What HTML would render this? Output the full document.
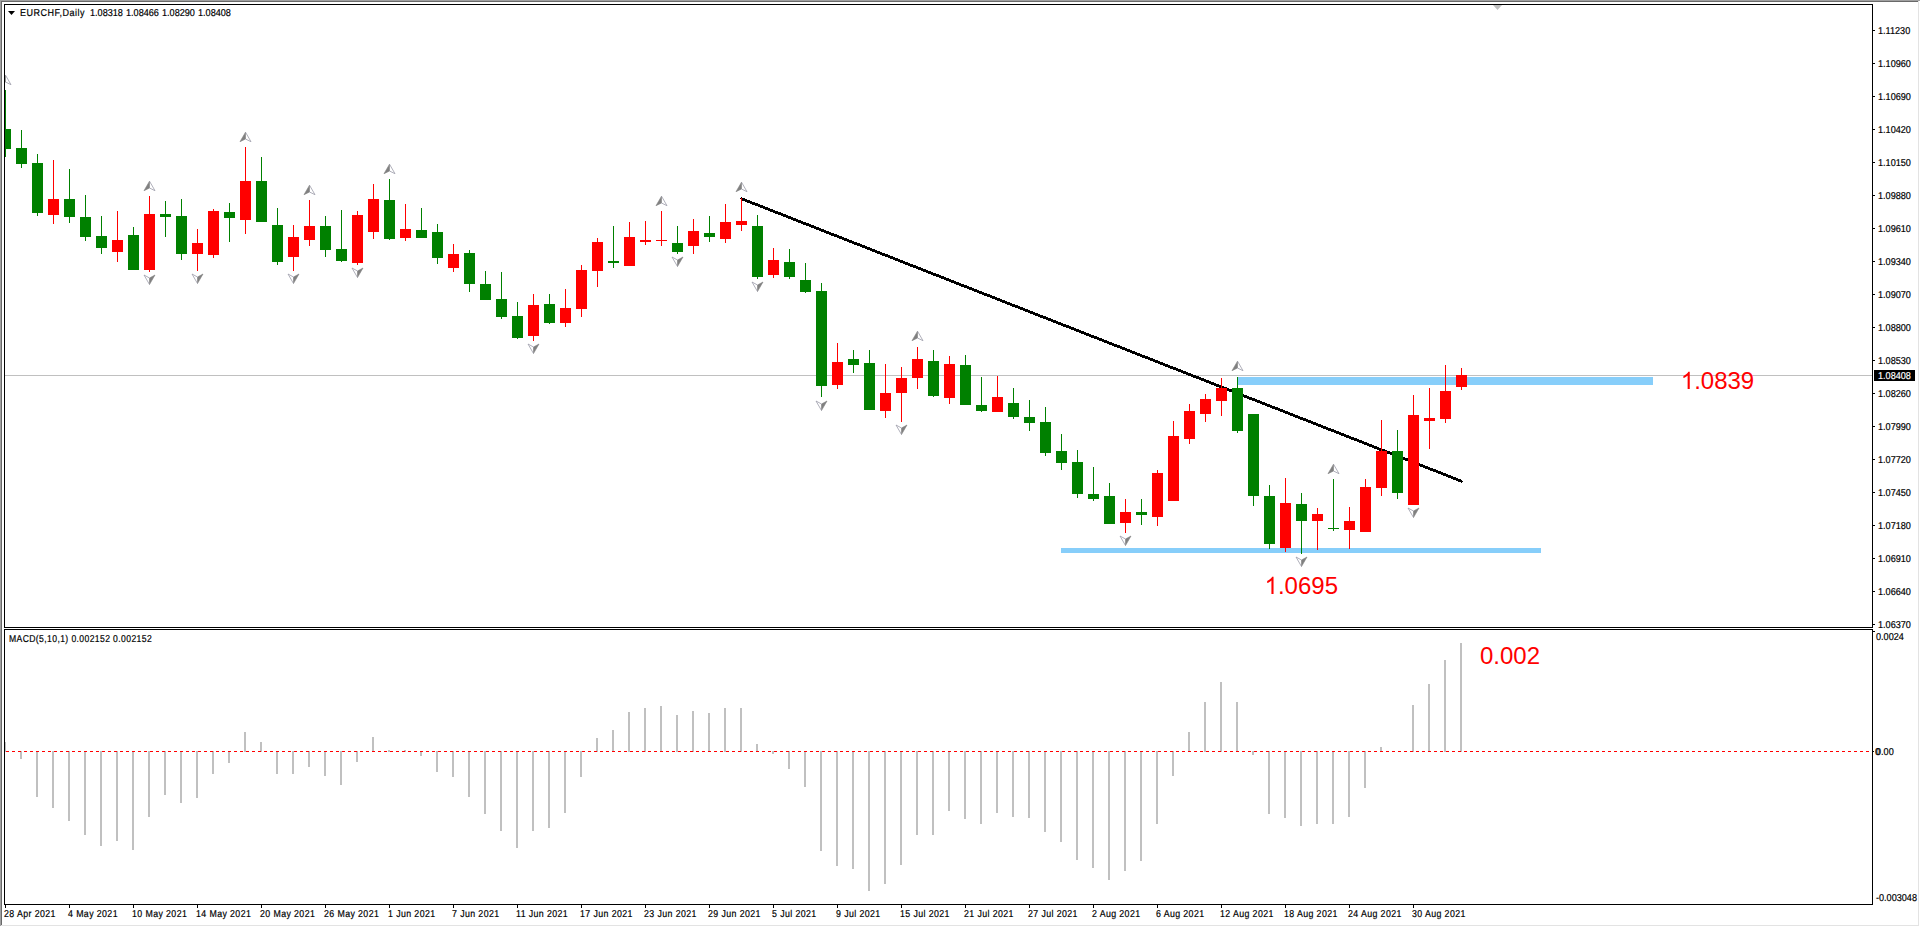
<!DOCTYPE html>
<html><head><meta charset="utf-8"><style>
html,body{margin:0;padding:0;background:#fff;width:1920px;height:927px;overflow:hidden}
svg{position:absolute;left:0;top:0;display:block}
text{font-family:"Liberation Sans",sans-serif;white-space:pre}
</style></head><body>
<svg width="1920" height="927" viewBox="0 0 1920 927">
<defs>
<clipPath id="mainclip"><rect x="5" y="5" width="1867" height="622"/></clipPath>
<clipPath id="macdclip"><rect x="5" y="630" width="1867" height="274"/></clipPath>
</defs>
<rect width="1920" height="927" fill="#fff"/>
<g clip-path="url(#mainclip)" shape-rendering="crispEdges">
<rect x="5" y="375" width="1867" height="1" fill="#c0c0c0"/>
<rect x="1061" y="548" width="480" height="5" fill="#87cefa"/>
<rect x="1238" y="377" width="415" height="8" fill="#87cefa"/>
<path d="M741 197.00 L1462 479.89 L1463 481.39 L1462 482.89 L741 200.00 L740 198.50 Z" fill="#000"/>
<rect x="5" y="90" width="1" height="67" fill="#008000"/>
<rect x="0" y="129" width="11" height="20" fill="#008000"/>
<rect x="21" y="130" width="1" height="38" fill="#008000"/>
<rect x="16" y="148" width="11" height="16" fill="#008000"/>
<rect x="37" y="154" width="1" height="62" fill="#008000"/>
<rect x="32" y="163" width="11" height="50" fill="#008000"/>
<rect x="53" y="160" width="1" height="64" fill="#ff0000"/>
<rect x="48" y="199" width="11" height="16" fill="#ff0000"/>
<rect x="69" y="169" width="1" height="54" fill="#008000"/>
<rect x="64" y="199" width="11" height="18" fill="#008000"/>
<rect x="85" y="195" width="1" height="46" fill="#008000"/>
<rect x="80" y="217" width="11" height="20" fill="#008000"/>
<rect x="101" y="216" width="1" height="38" fill="#008000"/>
<rect x="96" y="236" width="11" height="12" fill="#008000"/>
<rect x="117" y="211" width="1" height="51" fill="#ff0000"/>
<rect x="112" y="240" width="11" height="12" fill="#ff0000"/>
<rect x="133" y="227" width="1" height="43" fill="#008000"/>
<rect x="128" y="235" width="11" height="35" fill="#008000"/>
<rect x="149" y="196" width="1" height="76" fill="#ff0000"/>
<rect x="144" y="214" width="11" height="56" fill="#ff0000"/>
<rect x="165" y="201" width="1" height="36" fill="#008000"/>
<rect x="160" y="214" width="11" height="3" fill="#008000"/>
<rect x="181" y="199" width="1" height="61" fill="#008000"/>
<rect x="176" y="216" width="11" height="38" fill="#008000"/>
<rect x="197" y="229" width="1" height="42" fill="#ff0000"/>
<rect x="192" y="243" width="11" height="11" fill="#ff0000"/>
<rect x="213" y="209" width="1" height="49" fill="#ff0000"/>
<rect x="208" y="211" width="11" height="44" fill="#ff0000"/>
<rect x="229" y="203" width="1" height="39" fill="#008000"/>
<rect x="224" y="212" width="11" height="6" fill="#008000"/>
<rect x="245" y="147" width="1" height="87" fill="#ff0000"/>
<rect x="240" y="181" width="11" height="39" fill="#ff0000"/>
<rect x="261" y="157" width="1" height="65" fill="#008000"/>
<rect x="256" y="181" width="11" height="41" fill="#008000"/>
<rect x="277" y="208" width="1" height="57" fill="#008000"/>
<rect x="272" y="225" width="11" height="37" fill="#008000"/>
<rect x="293" y="225" width="1" height="46" fill="#ff0000"/>
<rect x="288" y="237" width="11" height="20" fill="#ff0000"/>
<rect x="309" y="200" width="1" height="46" fill="#ff0000"/>
<rect x="304" y="226" width="11" height="14" fill="#ff0000"/>
<rect x="325" y="216" width="1" height="41" fill="#008000"/>
<rect x="320" y="226" width="11" height="24" fill="#008000"/>
<rect x="341" y="210" width="1" height="52" fill="#008000"/>
<rect x="336" y="249" width="11" height="12" fill="#008000"/>
<rect x="357" y="211" width="1" height="54" fill="#ff0000"/>
<rect x="352" y="215" width="11" height="48" fill="#ff0000"/>
<rect x="373" y="184" width="1" height="55" fill="#ff0000"/>
<rect x="368" y="199" width="11" height="33" fill="#ff0000"/>
<rect x="389" y="179" width="1" height="61" fill="#008000"/>
<rect x="384" y="200" width="11" height="39" fill="#008000"/>
<rect x="405" y="204" width="1" height="37" fill="#ff0000"/>
<rect x="400" y="229" width="11" height="9" fill="#ff0000"/>
<rect x="421" y="208" width="1" height="30" fill="#008000"/>
<rect x="416" y="230" width="11" height="8" fill="#008000"/>
<rect x="437" y="224" width="1" height="40" fill="#008000"/>
<rect x="432" y="232" width="11" height="26" fill="#008000"/>
<rect x="453" y="244" width="1" height="28" fill="#ff0000"/>
<rect x="448" y="254" width="11" height="14" fill="#ff0000"/>
<rect x="469" y="250" width="1" height="42" fill="#008000"/>
<rect x="464" y="253" width="11" height="31" fill="#008000"/>
<rect x="485" y="271" width="1" height="29" fill="#008000"/>
<rect x="480" y="284" width="11" height="16" fill="#008000"/>
<rect x="501" y="272" width="1" height="47" fill="#008000"/>
<rect x="496" y="299" width="11" height="18" fill="#008000"/>
<rect x="517" y="302" width="1" height="37" fill="#008000"/>
<rect x="512" y="316" width="11" height="22" fill="#008000"/>
<rect x="533" y="294" width="1" height="47" fill="#ff0000"/>
<rect x="528" y="305" width="11" height="31" fill="#ff0000"/>
<rect x="549" y="294" width="1" height="30" fill="#008000"/>
<rect x="544" y="304" width="11" height="19" fill="#008000"/>
<rect x="565" y="289" width="1" height="38" fill="#ff0000"/>
<rect x="560" y="308" width="11" height="15" fill="#ff0000"/>
<rect x="581" y="265" width="1" height="52" fill="#ff0000"/>
<rect x="576" y="270" width="11" height="39" fill="#ff0000"/>
<rect x="597" y="238" width="1" height="49" fill="#ff0000"/>
<rect x="592" y="242" width="11" height="29" fill="#ff0000"/>
<rect x="613" y="226" width="1" height="42" fill="#008000"/>
<rect x="608" y="261" width="11" height="2" fill="#008000"/>
<rect x="629" y="222" width="1" height="44" fill="#ff0000"/>
<rect x="624" y="237" width="11" height="29" fill="#ff0000"/>
<rect x="645" y="221" width="1" height="24" fill="#ff0000"/>
<rect x="640" y="240" width="11" height="2" fill="#ff0000"/>
<rect x="661" y="211" width="1" height="35" fill="#ff0000"/>
<rect x="656" y="240" width="11" height="1" fill="#ff0000"/>
<rect x="677" y="226" width="1" height="28" fill="#008000"/>
<rect x="672" y="243" width="11" height="9" fill="#008000"/>
<rect x="693" y="219" width="1" height="35" fill="#ff0000"/>
<rect x="688" y="231" width="11" height="15" fill="#ff0000"/>
<rect x="709" y="216" width="1" height="26" fill="#008000"/>
<rect x="704" y="233" width="11" height="4" fill="#008000"/>
<rect x="725" y="204" width="1" height="39" fill="#ff0000"/>
<rect x="720" y="222" width="11" height="17" fill="#ff0000"/>
<rect x="741" y="198" width="1" height="33" fill="#ff0000"/>
<rect x="736" y="221" width="11" height="4" fill="#ff0000"/>
<rect x="757" y="215" width="1" height="64" fill="#008000"/>
<rect x="752" y="226" width="11" height="51" fill="#008000"/>
<rect x="773" y="248" width="1" height="30" fill="#ff0000"/>
<rect x="768" y="260" width="11" height="15" fill="#ff0000"/>
<rect x="789" y="249" width="1" height="30" fill="#008000"/>
<rect x="784" y="262" width="11" height="15" fill="#008000"/>
<rect x="805" y="263" width="1" height="30" fill="#008000"/>
<rect x="800" y="280" width="11" height="12" fill="#008000"/>
<rect x="821" y="283" width="1" height="114" fill="#008000"/>
<rect x="816" y="291" width="11" height="95" fill="#008000"/>
<rect x="837" y="343" width="1" height="46" fill="#ff0000"/>
<rect x="832" y="362" width="11" height="23" fill="#ff0000"/>
<rect x="853" y="350" width="1" height="23" fill="#008000"/>
<rect x="848" y="359" width="11" height="6" fill="#008000"/>
<rect x="869" y="350" width="1" height="60" fill="#008000"/>
<rect x="864" y="363" width="11" height="47" fill="#008000"/>
<rect x="885" y="364" width="1" height="54" fill="#ff0000"/>
<rect x="880" y="393" width="11" height="18" fill="#ff0000"/>
<rect x="901" y="367" width="1" height="55" fill="#ff0000"/>
<rect x="896" y="378" width="11" height="15" fill="#ff0000"/>
<rect x="917" y="347" width="1" height="42" fill="#ff0000"/>
<rect x="912" y="359" width="11" height="19" fill="#ff0000"/>
<rect x="933" y="350" width="1" height="47" fill="#008000"/>
<rect x="928" y="361" width="11" height="35" fill="#008000"/>
<rect x="949" y="356" width="1" height="48" fill="#ff0000"/>
<rect x="944" y="364" width="11" height="34" fill="#ff0000"/>
<rect x="965" y="355" width="1" height="50" fill="#008000"/>
<rect x="960" y="365" width="11" height="40" fill="#008000"/>
<rect x="981" y="377" width="1" height="35" fill="#008000"/>
<rect x="976" y="405" width="11" height="6" fill="#008000"/>
<rect x="997" y="376" width="1" height="36" fill="#ff0000"/>
<rect x="992" y="397" width="11" height="15" fill="#ff0000"/>
<rect x="1013" y="388" width="1" height="31" fill="#008000"/>
<rect x="1008" y="403" width="11" height="14" fill="#008000"/>
<rect x="1029" y="400" width="1" height="31" fill="#008000"/>
<rect x="1024" y="417" width="11" height="6" fill="#008000"/>
<rect x="1045" y="407" width="1" height="49" fill="#008000"/>
<rect x="1040" y="422" width="11" height="31" fill="#008000"/>
<rect x="1061" y="434" width="1" height="36" fill="#008000"/>
<rect x="1056" y="451" width="11" height="12" fill="#008000"/>
<rect x="1077" y="450" width="1" height="48" fill="#008000"/>
<rect x="1072" y="462" width="11" height="32" fill="#008000"/>
<rect x="1093" y="467" width="1" height="34" fill="#008000"/>
<rect x="1088" y="494" width="11" height="5" fill="#008000"/>
<rect x="1109" y="483" width="1" height="41" fill="#008000"/>
<rect x="1104" y="496" width="11" height="28" fill="#008000"/>
<rect x="1125" y="499" width="1" height="34" fill="#ff0000"/>
<rect x="1120" y="512" width="11" height="11" fill="#ff0000"/>
<rect x="1141" y="499" width="1" height="26" fill="#008000"/>
<rect x="1136" y="512" width="11" height="3" fill="#008000"/>
<rect x="1157" y="470" width="1" height="56" fill="#ff0000"/>
<rect x="1152" y="473" width="11" height="44" fill="#ff0000"/>
<rect x="1173" y="421" width="1" height="80" fill="#ff0000"/>
<rect x="1168" y="436" width="11" height="65" fill="#ff0000"/>
<rect x="1189" y="404" width="1" height="40" fill="#ff0000"/>
<rect x="1184" y="411" width="11" height="28" fill="#ff0000"/>
<rect x="1205" y="394" width="1" height="28" fill="#ff0000"/>
<rect x="1200" y="399" width="11" height="15" fill="#ff0000"/>
<rect x="1221" y="378" width="1" height="38" fill="#ff0000"/>
<rect x="1216" y="388" width="11" height="13" fill="#ff0000"/>
<rect x="1237" y="377" width="1" height="56" fill="#008000"/>
<rect x="1232" y="388" width="11" height="43" fill="#008000"/>
<rect x="1253" y="414" width="1" height="92" fill="#008000"/>
<rect x="1248" y="414" width="11" height="82" fill="#008000"/>
<rect x="1269" y="485" width="1" height="64" fill="#008000"/>
<rect x="1264" y="496" width="11" height="48" fill="#008000"/>
<rect x="1285" y="478" width="1" height="74" fill="#ff0000"/>
<rect x="1280" y="503" width="11" height="45" fill="#ff0000"/>
<rect x="1301" y="493" width="1" height="61" fill="#008000"/>
<rect x="1296" y="504" width="11" height="17" fill="#008000"/>
<rect x="1317" y="508" width="1" height="42" fill="#ff0000"/>
<rect x="1312" y="514" width="11" height="7" fill="#ff0000"/>
<rect x="1333" y="479" width="1" height="52" fill="#008000"/>
<rect x="1328" y="528" width="11" height="1" fill="#008000"/>
<rect x="1349" y="507" width="1" height="42" fill="#ff0000"/>
<rect x="1344" y="521" width="11" height="9" fill="#ff0000"/>
<rect x="1365" y="479" width="1" height="53" fill="#ff0000"/>
<rect x="1360" y="487" width="11" height="45" fill="#ff0000"/>
<rect x="1381" y="420" width="1" height="76" fill="#ff0000"/>
<rect x="1376" y="451" width="11" height="37" fill="#ff0000"/>
<rect x="1397" y="430" width="1" height="69" fill="#008000"/>
<rect x="1392" y="451" width="11" height="42" fill="#008000"/>
<rect x="1413" y="395" width="1" height="110" fill="#ff0000"/>
<rect x="1408" y="415" width="11" height="90" fill="#ff0000"/>
<rect x="1429" y="388" width="1" height="61" fill="#ff0000"/>
<rect x="1424" y="418" width="11" height="3" fill="#ff0000"/>
<rect x="1445" y="365" width="1" height="58" fill="#ff0000"/>
<rect x="1440" y="391" width="11" height="28" fill="#ff0000"/>
<rect x="1461" y="368" width="1" height="22" fill="#ff0000"/>
<rect x="1456" y="375" width="11" height="12" fill="#ff0000"/>
</g>
<g clip-path="url(#mainclip)">
<path d="M5.5 75.2 L0.0 84.7 L5.5 82 Z" fill="#808080" stroke="#808080" stroke-width="0.6"/>
<path d="M5.5 75.2 L11.0 84.7 L5.5 82" fill="none" stroke="#9a9aa8" stroke-width="0.8"/>
<path d="M149.5 181.2 L144.0 190.7 L149.5 188 Z" fill="#808080" stroke="#808080" stroke-width="0.6"/>
<path d="M149.5 181.2 L155.0 190.7 L149.5 188" fill="none" stroke="#9a9aa8" stroke-width="0.8"/>
<path d="M245.5 132.2 L240.0 141.7 L245.5 139 Z" fill="#808080" stroke="#808080" stroke-width="0.6"/>
<path d="M245.5 132.2 L251.0 141.7 L245.5 139" fill="none" stroke="#9a9aa8" stroke-width="0.8"/>
<path d="M309.5 185.2 L304.0 194.7 L309.5 192 Z" fill="#808080" stroke="#808080" stroke-width="0.6"/>
<path d="M309.5 185.2 L315.0 194.7 L309.5 192" fill="none" stroke="#9a9aa8" stroke-width="0.8"/>
<path d="M389.5 164.2 L384.0 173.7 L389.5 171 Z" fill="#808080" stroke="#808080" stroke-width="0.6"/>
<path d="M389.5 164.2 L395.0 173.7 L389.5 171" fill="none" stroke="#9a9aa8" stroke-width="0.8"/>
<path d="M661.5 196.2 L656.0 205.7 L661.5 203 Z" fill="#808080" stroke="#808080" stroke-width="0.6"/>
<path d="M661.5 196.2 L667.0 205.7 L661.5 203" fill="none" stroke="#9a9aa8" stroke-width="0.8"/>
<path d="M741.5 182.2 L736.0 191.7 L741.5 189 Z" fill="#808080" stroke="#808080" stroke-width="0.6"/>
<path d="M741.5 182.2 L747.0 191.7 L741.5 189" fill="none" stroke="#9a9aa8" stroke-width="0.8"/>
<path d="M917.5 331.2 L912.0 340.7 L917.5 338 Z" fill="#808080" stroke="#808080" stroke-width="0.6"/>
<path d="M917.5 331.2 L923.0 340.7 L917.5 338" fill="none" stroke="#9a9aa8" stroke-width="0.8"/>
<path d="M1237.5 361.2 L1232.0 370.7 L1237.5 368 Z" fill="#808080" stroke="#808080" stroke-width="0.6"/>
<path d="M1237.5 361.2 L1243.0 370.7 L1237.5 368" fill="none" stroke="#9a9aa8" stroke-width="0.8"/>
<path d="M1333.5 464.2 L1328.0 473.7 L1333.5 471 Z" fill="#808080" stroke="#808080" stroke-width="0.6"/>
<path d="M1333.5 464.2 L1339.0 473.7 L1333.5 471" fill="none" stroke="#9a9aa8" stroke-width="0.8"/>
<path d="M149.5 284.5 L155.0 275 L149.5 278 Z" fill="#808080" stroke="#808080" stroke-width="0.6"/>
<path d="M149.5 284.5 L144.0 275 L149.5 278" fill="none" stroke="#9a9aa8" stroke-width="0.8"/>
<path d="M197.5 283.5 L203.0 274 L197.5 277 Z" fill="#808080" stroke="#808080" stroke-width="0.6"/>
<path d="M197.5 283.5 L192.0 274 L197.5 277" fill="none" stroke="#9a9aa8" stroke-width="0.8"/>
<path d="M293.5 283.5 L299.0 274 L293.5 277 Z" fill="#808080" stroke="#808080" stroke-width="0.6"/>
<path d="M293.5 283.5 L288.0 274 L293.5 277" fill="none" stroke="#9a9aa8" stroke-width="0.8"/>
<path d="M357.5 277.5 L363.0 268 L357.5 271 Z" fill="#808080" stroke="#808080" stroke-width="0.6"/>
<path d="M357.5 277.5 L352.0 268 L357.5 271" fill="none" stroke="#9a9aa8" stroke-width="0.8"/>
<path d="M533.5 353.5 L539.0 344 L533.5 347 Z" fill="#808080" stroke="#808080" stroke-width="0.6"/>
<path d="M533.5 353.5 L528.0 344 L533.5 347" fill="none" stroke="#9a9aa8" stroke-width="0.8"/>
<path d="M677.5 266.5 L683.0 257 L677.5 260 Z" fill="#808080" stroke="#808080" stroke-width="0.6"/>
<path d="M677.5 266.5 L672.0 257 L677.5 260" fill="none" stroke="#9a9aa8" stroke-width="0.8"/>
<path d="M757.5 291.5 L763.0 282 L757.5 285 Z" fill="#808080" stroke="#808080" stroke-width="0.6"/>
<path d="M757.5 291.5 L752.0 282 L757.5 285" fill="none" stroke="#9a9aa8" stroke-width="0.8"/>
<path d="M821.5 410.5 L827.0 401 L821.5 404 Z" fill="#808080" stroke="#808080" stroke-width="0.6"/>
<path d="M821.5 410.5 L816.0 401 L821.5 404" fill="none" stroke="#9a9aa8" stroke-width="0.8"/>
<path d="M901.5 434.5 L907.0 425 L901.5 428 Z" fill="#808080" stroke="#808080" stroke-width="0.6"/>
<path d="M901.5 434.5 L896.0 425 L901.5 428" fill="none" stroke="#9a9aa8" stroke-width="0.8"/>
<path d="M1125.5 545.5 L1131.0 536 L1125.5 539 Z" fill="#808080" stroke="#808080" stroke-width="0.6"/>
<path d="M1125.5 545.5 L1120.0 536 L1125.5 539" fill="none" stroke="#9a9aa8" stroke-width="0.8"/>
<path d="M1301.5 566.5 L1307.0 557 L1301.5 560 Z" fill="#808080" stroke="#808080" stroke-width="0.6"/>
<path d="M1301.5 566.5 L1296.0 557 L1301.5 560" fill="none" stroke="#9a9aa8" stroke-width="0.8"/>
<path d="M1413.5 517.5 L1419.0 508 L1413.5 511 Z" fill="#808080" stroke="#808080" stroke-width="0.6"/>
<path d="M1413.5 517.5 L1408.0 508 L1413.5 511" fill="none" stroke="#9a9aa8" stroke-width="0.8"/>
</g>
<path d="M1493 5 L1502 5 L1497.5 10 Z" fill="#c0c0c0"/>
<g clip-path="url(#macdclip)" shape-rendering="crispEdges">
<rect x="4" y="742" width="2" height="10" fill="#c0c0c0"/>
<rect x="20" y="751" width="2" height="8" fill="#c0c0c0"/>
<rect x="36" y="751" width="2" height="46" fill="#c0c0c0"/>
<rect x="52" y="751" width="2" height="57" fill="#c0c0c0"/>
<rect x="68" y="751" width="2" height="70" fill="#c0c0c0"/>
<rect x="84" y="751" width="2" height="84" fill="#c0c0c0"/>
<rect x="100" y="751" width="2" height="95" fill="#c0c0c0"/>
<rect x="116" y="751" width="2" height="90" fill="#c0c0c0"/>
<rect x="132" y="751" width="2" height="99" fill="#c0c0c0"/>
<rect x="148" y="751" width="2" height="66" fill="#c0c0c0"/>
<rect x="164" y="751" width="2" height="44" fill="#c0c0c0"/>
<rect x="180" y="751" width="2" height="52" fill="#c0c0c0"/>
<rect x="196" y="751" width="2" height="47" fill="#c0c0c0"/>
<rect x="212" y="751" width="2" height="23" fill="#c0c0c0"/>
<rect x="228" y="751" width="2" height="12" fill="#c0c0c0"/>
<rect x="244" y="732" width="2" height="20" fill="#c0c0c0"/>
<rect x="260" y="742" width="2" height="10" fill="#c0c0c0"/>
<rect x="276" y="751" width="2" height="23" fill="#c0c0c0"/>
<rect x="292" y="751" width="2" height="23" fill="#c0c0c0"/>
<rect x="308" y="751" width="2" height="16" fill="#c0c0c0"/>
<rect x="324" y="751" width="2" height="25" fill="#c0c0c0"/>
<rect x="340" y="751" width="2" height="34" fill="#c0c0c0"/>
<rect x="356" y="751" width="2" height="11" fill="#c0c0c0"/>
<rect x="372" y="737" width="2" height="15" fill="#c0c0c0"/>
<rect x="388" y="750" width="2" height="2" fill="#c0c0c0"/>
<rect x="404" y="750" width="2" height="2" fill="#c0c0c0"/>
<rect x="420" y="751" width="2" height="5" fill="#c0c0c0"/>
<rect x="436" y="751" width="2" height="21" fill="#c0c0c0"/>
<rect x="452" y="751" width="2" height="26" fill="#c0c0c0"/>
<rect x="468" y="751" width="2" height="46" fill="#c0c0c0"/>
<rect x="484" y="751" width="2" height="63" fill="#c0c0c0"/>
<rect x="500" y="751" width="2" height="80" fill="#c0c0c0"/>
<rect x="516" y="751" width="2" height="97" fill="#c0c0c0"/>
<rect x="532" y="751" width="2" height="80" fill="#c0c0c0"/>
<rect x="548" y="751" width="2" height="77" fill="#c0c0c0"/>
<rect x="564" y="751" width="2" height="62" fill="#c0c0c0"/>
<rect x="580" y="751" width="2" height="26" fill="#c0c0c0"/>
<rect x="596" y="738" width="2" height="14" fill="#c0c0c0"/>
<rect x="612" y="730" width="2" height="22" fill="#c0c0c0"/>
<rect x="628" y="712" width="2" height="40" fill="#c0c0c0"/>
<rect x="644" y="708" width="2" height="44" fill="#c0c0c0"/>
<rect x="660" y="706" width="2" height="46" fill="#c0c0c0"/>
<rect x="676" y="715" width="2" height="37" fill="#c0c0c0"/>
<rect x="692" y="711" width="2" height="41" fill="#c0c0c0"/>
<rect x="708" y="713" width="2" height="39" fill="#c0c0c0"/>
<rect x="724" y="708" width="2" height="44" fill="#c0c0c0"/>
<rect x="740" y="708" width="2" height="44" fill="#c0c0c0"/>
<rect x="756" y="744" width="2" height="8" fill="#c0c0c0"/>
<rect x="772" y="751" width="2" height="3" fill="#c0c0c0"/>
<rect x="788" y="751" width="2" height="18" fill="#c0c0c0"/>
<rect x="804" y="751" width="2" height="36" fill="#c0c0c0"/>
<rect x="820" y="751" width="2" height="100" fill="#c0c0c0"/>
<rect x="836" y="751" width="2" height="115" fill="#c0c0c0"/>
<rect x="852" y="751" width="2" height="118" fill="#c0c0c0"/>
<rect x="868" y="751" width="2" height="140" fill="#c0c0c0"/>
<rect x="884" y="751" width="2" height="133" fill="#c0c0c0"/>
<rect x="900" y="751" width="2" height="114" fill="#c0c0c0"/>
<rect x="916" y="751" width="2" height="84" fill="#c0c0c0"/>
<rect x="932" y="751" width="2" height="84" fill="#c0c0c0"/>
<rect x="948" y="751" width="2" height="60" fill="#c0c0c0"/>
<rect x="964" y="751" width="2" height="68" fill="#c0c0c0"/>
<rect x="980" y="751" width="2" height="73" fill="#c0c0c0"/>
<rect x="996" y="751" width="2" height="62" fill="#c0c0c0"/>
<rect x="1012" y="751" width="2" height="66" fill="#c0c0c0"/>
<rect x="1028" y="751" width="2" height="67" fill="#c0c0c0"/>
<rect x="1044" y="751" width="2" height="81" fill="#c0c0c0"/>
<rect x="1060" y="751" width="2" height="91" fill="#c0c0c0"/>
<rect x="1076" y="751" width="2" height="109" fill="#c0c0c0"/>
<rect x="1092" y="751" width="2" height="117" fill="#c0c0c0"/>
<rect x="1108" y="751" width="2" height="129" fill="#c0c0c0"/>
<rect x="1124" y="751" width="2" height="120" fill="#c0c0c0"/>
<rect x="1140" y="751" width="2" height="110" fill="#c0c0c0"/>
<rect x="1156" y="751" width="2" height="73" fill="#c0c0c0"/>
<rect x="1172" y="751" width="2" height="25" fill="#c0c0c0"/>
<rect x="1188" y="732" width="2" height="20" fill="#c0c0c0"/>
<rect x="1204" y="702" width="2" height="50" fill="#c0c0c0"/>
<rect x="1220" y="682" width="2" height="70" fill="#c0c0c0"/>
<rect x="1236" y="702" width="2" height="50" fill="#c0c0c0"/>
<rect x="1252" y="751" width="2" height="4" fill="#c0c0c0"/>
<rect x="1268" y="751" width="2" height="63" fill="#c0c0c0"/>
<rect x="1284" y="751" width="2" height="67" fill="#c0c0c0"/>
<rect x="1300" y="751" width="2" height="75" fill="#c0c0c0"/>
<rect x="1316" y="751" width="2" height="73" fill="#c0c0c0"/>
<rect x="1332" y="751" width="2" height="73" fill="#c0c0c0"/>
<rect x="1348" y="751" width="2" height="66" fill="#c0c0c0"/>
<rect x="1364" y="751" width="2" height="37" fill="#c0c0c0"/>
<rect x="1380" y="747" width="2" height="5" fill="#c0c0c0"/>
<rect x="1412" y="705" width="2" height="47" fill="#c0c0c0"/>
<rect x="1428" y="684" width="2" height="68" fill="#c0c0c0"/>
<rect x="1444" y="660" width="2" height="92" fill="#c0c0c0"/>
<rect x="1460" y="643" width="2" height="109" fill="#c0c0c0"/>
<line x1="6" y1="751.5" x2="1872" y2="751.5" stroke="#ff0000" stroke-width="1" stroke-dasharray="3 3"/>
</g>
<g shape-rendering="crispEdges">
<rect x="0" y="0" width="1920" height="1" fill="#a0a0a0"/>
<rect x="1" y="1" width="1918" height="1" fill="#696969"/>
<rect x="0" y="0" width="1" height="926" fill="#a0a0a0"/>
<rect x="1" y="1" width="1" height="925" fill="#696969"/>
<rect x="1918" y="1" width="1" height="925" fill="#e3e3e3"/>
<rect x="1" y="925" width="1918" height="1" fill="#e3e3e3"/>
<rect x="4.5" y="4.5" width="1868" height="623" fill="none" stroke="#000" stroke-width="1"/>
<rect x="4.5" y="629.5" width="1868" height="275" fill="none" stroke="#000" stroke-width="1"/>
<rect x="1873" y="30" width="2" height="1" fill="#000"/>
<rect x="1873" y="63" width="2" height="1" fill="#000"/>
<rect x="1873" y="96" width="2" height="1" fill="#000"/>
<rect x="1873" y="129" width="2" height="1" fill="#000"/>
<rect x="1873" y="162" width="2" height="1" fill="#000"/>
<rect x="1873" y="195" width="2" height="1" fill="#000"/>
<rect x="1873" y="228" width="2" height="1" fill="#000"/>
<rect x="1873" y="261" width="2" height="1" fill="#000"/>
<rect x="1873" y="294" width="2" height="1" fill="#000"/>
<rect x="1873" y="327" width="2" height="1" fill="#000"/>
<rect x="1873" y="360" width="2" height="1" fill="#000"/>
<rect x="1873" y="393" width="2" height="1" fill="#000"/>
<rect x="1873" y="426" width="2" height="1" fill="#000"/>
<rect x="1873" y="459" width="2" height="1" fill="#000"/>
<rect x="1873" y="492" width="2" height="1" fill="#000"/>
<rect x="1873" y="525" width="2" height="1" fill="#000"/>
<rect x="1873" y="558" width="2" height="1" fill="#000"/>
<rect x="1873" y="591" width="2" height="1" fill="#000"/>
<rect x="1873" y="624" width="2" height="1" fill="#000"/>
<rect x="1873" y="631" width="2" height="1" fill="#000"/>
<rect x="1873" y="751" width="1" height="1" fill="#000"/>
<rect x="5" y="905" width="1" height="3" fill="#000"/>
<rect x="69" y="905" width="1" height="3" fill="#000"/>
<rect x="133" y="905" width="1" height="3" fill="#000"/>
<rect x="197" y="905" width="1" height="3" fill="#000"/>
<rect x="261" y="905" width="1" height="3" fill="#000"/>
<rect x="325" y="905" width="1" height="3" fill="#000"/>
<rect x="389" y="905" width="1" height="3" fill="#000"/>
<rect x="453" y="905" width="1" height="3" fill="#000"/>
<rect x="517" y="905" width="1" height="3" fill="#000"/>
<rect x="581" y="905" width="1" height="3" fill="#000"/>
<rect x="645" y="905" width="1" height="3" fill="#000"/>
<rect x="709" y="905" width="1" height="3" fill="#000"/>
<rect x="773" y="905" width="1" height="3" fill="#000"/>
<rect x="837" y="905" width="1" height="3" fill="#000"/>
<rect x="901" y="905" width="1" height="3" fill="#000"/>
<rect x="965" y="905" width="1" height="3" fill="#000"/>
<rect x="1029" y="905" width="1" height="3" fill="#000"/>
<rect x="1093" y="905" width="1" height="3" fill="#000"/>
<rect x="1157" y="905" width="1" height="3" fill="#000"/>
<rect x="1221" y="905" width="1" height="3" fill="#000"/>
<rect x="1285" y="905" width="1" height="3" fill="#000"/>
<rect x="1349" y="905" width="1" height="3" fill="#000"/>
<rect x="1413" y="905" width="1" height="3" fill="#000"/>
<rect x="1874" y="370" width="41" height="11" fill="#000"/>
</g>
<path d="M8 11 L15 11 L11.5 15 Z" fill="#000"/>
<text transform="translate(20 16) scale(0.9 1.0)" font-size="10" fill="#000" stroke="#000" stroke-width="0.2" text-rendering="geometricPrecision" letter-spacing="0.55">EURCHF,Daily</text>
<text transform="translate(90 16) scale(0.91 1.0)" font-size="10" fill="#000" stroke="#000" stroke-width="0.2" text-rendering="geometricPrecision" >1.08318</text>
<text transform="translate(126 16) scale(0.91 1.0)" font-size="10" fill="#000" stroke="#000" stroke-width="0.2" text-rendering="geometricPrecision" >1.08466</text>
<text transform="translate(162 16) scale(0.91 1.0)" font-size="10" fill="#000" stroke="#000" stroke-width="0.2" text-rendering="geometricPrecision" >1.08290</text>
<text transform="translate(198 16) scale(0.91 1.0)" font-size="10" fill="#000" stroke="#000" stroke-width="0.2" text-rendering="geometricPrecision" >1.08408</text>
<text transform="translate(9 642) scale(0.86 1.0)" font-size="10" fill="#000" stroke="#000" stroke-width="0.2" text-rendering="geometricPrecision" letter-spacing="0.45">MACD(5,10,1) 0.002152 0.002152</text>
<text transform="translate(1878 33.5) scale(0.91 1.0)" font-size="10" fill="#000" stroke="#000" stroke-width="0.2" text-rendering="geometricPrecision" >1.11230</text>
<text transform="translate(1878 66.5) scale(0.91 1.0)" font-size="10" fill="#000" stroke="#000" stroke-width="0.2" text-rendering="geometricPrecision" >1.10960</text>
<text transform="translate(1878 99.5) scale(0.91 1.0)" font-size="10" fill="#000" stroke="#000" stroke-width="0.2" text-rendering="geometricPrecision" >1.10690</text>
<text transform="translate(1878 132.5) scale(0.91 1.0)" font-size="10" fill="#000" stroke="#000" stroke-width="0.2" text-rendering="geometricPrecision" >1.10420</text>
<text transform="translate(1878 165.5) scale(0.91 1.0)" font-size="10" fill="#000" stroke="#000" stroke-width="0.2" text-rendering="geometricPrecision" >1.10150</text>
<text transform="translate(1878 198.5) scale(0.91 1.0)" font-size="10" fill="#000" stroke="#000" stroke-width="0.2" text-rendering="geometricPrecision" >1.09880</text>
<text transform="translate(1878 231.5) scale(0.91 1.0)" font-size="10" fill="#000" stroke="#000" stroke-width="0.2" text-rendering="geometricPrecision" >1.09610</text>
<text transform="translate(1878 264.5) scale(0.91 1.0)" font-size="10" fill="#000" stroke="#000" stroke-width="0.2" text-rendering="geometricPrecision" >1.09340</text>
<text transform="translate(1878 297.5) scale(0.91 1.0)" font-size="10" fill="#000" stroke="#000" stroke-width="0.2" text-rendering="geometricPrecision" >1.09070</text>
<text transform="translate(1878 330.5) scale(0.91 1.0)" font-size="10" fill="#000" stroke="#000" stroke-width="0.2" text-rendering="geometricPrecision" >1.08800</text>
<text transform="translate(1878 363.5) scale(0.91 1.0)" font-size="10" fill="#000" stroke="#000" stroke-width="0.2" text-rendering="geometricPrecision" >1.08530</text>
<text transform="translate(1878 396.5) scale(0.91 1.0)" font-size="10" fill="#000" stroke="#000" stroke-width="0.2" text-rendering="geometricPrecision" >1.08260</text>
<text transform="translate(1878 429.5) scale(0.91 1.0)" font-size="10" fill="#000" stroke="#000" stroke-width="0.2" text-rendering="geometricPrecision" >1.07990</text>
<text transform="translate(1878 462.5) scale(0.91 1.0)" font-size="10" fill="#000" stroke="#000" stroke-width="0.2" text-rendering="geometricPrecision" >1.07720</text>
<text transform="translate(1878 495.5) scale(0.91 1.0)" font-size="10" fill="#000" stroke="#000" stroke-width="0.2" text-rendering="geometricPrecision" >1.07450</text>
<text transform="translate(1878 528.5) scale(0.91 1.0)" font-size="10" fill="#000" stroke="#000" stroke-width="0.2" text-rendering="geometricPrecision" >1.07180</text>
<text transform="translate(1878 561.5) scale(0.91 1.0)" font-size="10" fill="#000" stroke="#000" stroke-width="0.2" text-rendering="geometricPrecision" >1.06910</text>
<text transform="translate(1878 594.5) scale(0.91 1.0)" font-size="10" fill="#000" stroke="#000" stroke-width="0.2" text-rendering="geometricPrecision" >1.06640</text>
<text transform="translate(1878 627.5) scale(0.91 1.0)" font-size="10" fill="#000" stroke="#000" stroke-width="0.2" text-rendering="geometricPrecision" >1.06370</text>
<text transform="translate(1878 378.5) scale(0.91 1.0)" font-size="10" fill="#fff" stroke="#fff" stroke-width="0.2" text-rendering="geometricPrecision" >1.08408</text>
<text transform="translate(1876 640) scale(0.91 1.0)" font-size="10" fill="#000" stroke="#000" stroke-width="0.2" text-rendering="geometricPrecision" >0.0024</text>
<text transform="translate(1876 754.5) scale(0.91 1.0)" font-size="10" fill="#000" stroke="#000" stroke-width="0.2" text-rendering="geometricPrecision" >0.00</text>
<text transform="translate(1875 754.5) scale(0.91 1.0)" font-size="10" fill="#000" stroke="#000" stroke-width="0.2" text-rendering="geometricPrecision" >0</text>
<text transform="translate(1876 900.5) scale(0.91 1.0)" font-size="10" fill="#000" stroke="#000" stroke-width="0.2" text-rendering="geometricPrecision" >-0.003048</text>
<text transform="translate(4 917) scale(0.88 1.0)" font-size="10" fill="#000" stroke="#000" stroke-width="0.2" text-rendering="geometricPrecision" letter-spacing="0.45">28 Apr 2021</text>
<text transform="translate(68 917) scale(0.88 1.0)" font-size="10" fill="#000" stroke="#000" stroke-width="0.2" text-rendering="geometricPrecision" letter-spacing="0.45">4 May 2021</text>
<text transform="translate(132 917) scale(0.88 1.0)" font-size="10" fill="#000" stroke="#000" stroke-width="0.2" text-rendering="geometricPrecision" letter-spacing="0.45">10 May 2021</text>
<text transform="translate(196 917) scale(0.88 1.0)" font-size="10" fill="#000" stroke="#000" stroke-width="0.2" text-rendering="geometricPrecision" letter-spacing="0.45">14 May 2021</text>
<text transform="translate(260 917) scale(0.88 1.0)" font-size="10" fill="#000" stroke="#000" stroke-width="0.2" text-rendering="geometricPrecision" letter-spacing="0.45">20 May 2021</text>
<text transform="translate(324 917) scale(0.88 1.0)" font-size="10" fill="#000" stroke="#000" stroke-width="0.2" text-rendering="geometricPrecision" letter-spacing="0.45">26 May 2021</text>
<text transform="translate(388 917) scale(0.88 1.0)" font-size="10" fill="#000" stroke="#000" stroke-width="0.2" text-rendering="geometricPrecision" letter-spacing="0.45">1 Jun 2021</text>
<text transform="translate(452 917) scale(0.88 1.0)" font-size="10" fill="#000" stroke="#000" stroke-width="0.2" text-rendering="geometricPrecision" letter-spacing="0.45">7 Jun 2021</text>
<text transform="translate(516 917) scale(0.88 1.0)" font-size="10" fill="#000" stroke="#000" stroke-width="0.2" text-rendering="geometricPrecision" letter-spacing="0.45">11 Jun 2021</text>
<text transform="translate(580 917) scale(0.88 1.0)" font-size="10" fill="#000" stroke="#000" stroke-width="0.2" text-rendering="geometricPrecision" letter-spacing="0.45">17 Jun 2021</text>
<text transform="translate(644 917) scale(0.88 1.0)" font-size="10" fill="#000" stroke="#000" stroke-width="0.2" text-rendering="geometricPrecision" letter-spacing="0.45">23 Jun 2021</text>
<text transform="translate(708 917) scale(0.88 1.0)" font-size="10" fill="#000" stroke="#000" stroke-width="0.2" text-rendering="geometricPrecision" letter-spacing="0.45">29 Jun 2021</text>
<text transform="translate(772 917) scale(0.88 1.0)" font-size="10" fill="#000" stroke="#000" stroke-width="0.2" text-rendering="geometricPrecision" letter-spacing="0.45">5 Jul 2021</text>
<text transform="translate(836 917) scale(0.88 1.0)" font-size="10" fill="#000" stroke="#000" stroke-width="0.2" text-rendering="geometricPrecision" letter-spacing="0.45">9 Jul 2021</text>
<text transform="translate(900 917) scale(0.88 1.0)" font-size="10" fill="#000" stroke="#000" stroke-width="0.2" text-rendering="geometricPrecision" letter-spacing="0.45">15 Jul 2021</text>
<text transform="translate(964 917) scale(0.88 1.0)" font-size="10" fill="#000" stroke="#000" stroke-width="0.2" text-rendering="geometricPrecision" letter-spacing="0.45">21 Jul 2021</text>
<text transform="translate(1028 917) scale(0.88 1.0)" font-size="10" fill="#000" stroke="#000" stroke-width="0.2" text-rendering="geometricPrecision" letter-spacing="0.45">27 Jul 2021</text>
<text transform="translate(1092 917) scale(0.88 1.0)" font-size="10" fill="#000" stroke="#000" stroke-width="0.2" text-rendering="geometricPrecision" letter-spacing="0.45">2 Aug 2021</text>
<text transform="translate(1156 917) scale(0.88 1.0)" font-size="10" fill="#000" stroke="#000" stroke-width="0.2" text-rendering="geometricPrecision" letter-spacing="0.45">6 Aug 2021</text>
<text transform="translate(1220 917) scale(0.88 1.0)" font-size="10" fill="#000" stroke="#000" stroke-width="0.2" text-rendering="geometricPrecision" letter-spacing="0.45">12 Aug 2021</text>
<text transform="translate(1284 917) scale(0.88 1.0)" font-size="10" fill="#000" stroke="#000" stroke-width="0.2" text-rendering="geometricPrecision" letter-spacing="0.45">18 Aug 2021</text>
<text transform="translate(1348 917) scale(0.88 1.0)" font-size="10" fill="#000" stroke="#000" stroke-width="0.2" text-rendering="geometricPrecision" letter-spacing="0.45">24 Aug 2021</text>
<text transform="translate(1412 917) scale(0.88 1.0)" font-size="10" fill="#000" stroke="#000" stroke-width="0.2" text-rendering="geometricPrecision" letter-spacing="0.45">30 Aug 2021</text>
<path transform="translate(1680.8 389) scale(0.01171875 -0.01171875)" d="M763 0H583V1147Q518 1085 412 1023T221 930V1104Q371 1175 483 1276T642 1472H763Z" fill="#ff0000"/>
<text x="1694.14765625" y="389" font-size="24" fill="#ff0000">.0839</text>
<path transform="translate(1264.6 594) scale(0.01171875 -0.01171875)" d="M763 0H583V1147Q518 1085 412 1023T221 930V1104Q371 1175 483 1276T642 1472H763Z" fill="#ff0000"/>
<text x="1277.94765625" y="594" font-size="24" fill="#ff0000">.0695</text>
<text x="1480" y="664" font-size="24" fill="#ff0000">0.002</text>
</svg>
</body></html>
